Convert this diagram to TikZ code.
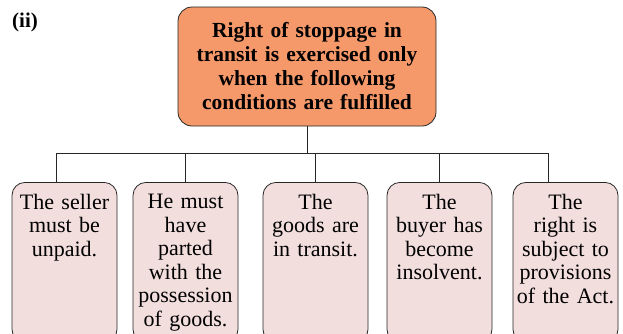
\documentclass[tikz,border=0pt]{standalone}
\usepackage{fontspec}
\setmainfont{Liberation Serif}
\usetikzlibrary{positioning}
\definecolor{headorange}{RGB}{245,152,106}
\definecolor{condpink}{RGB}{242,222,221}
\tikzset{
  headbox/.style={draw=black!85, line width=0.8pt, fill=headorange, rounded corners=14pt,
    minimum width=258pt, minimum height=119pt, text width=248pt, align=center,
    font=\bfseries\fontsize{21.5}{24}\selectfont},
  condbox/.style={draw=black!85, line width=0.8pt, fill=condpink, rounded corners=13pt,
    minimum width=105pt, minimum height=160pt, anchor=north},
  condtext/.style={text width=104pt, align=center, inner sep=0pt,
    font=\fontsize{22}{23.5}\selectfont},
  link/.style={draw=black!85, line width=0.8pt}
}
\begin{document}
\begin{tikzpicture}[x=1pt,y=-1pt]
\useasboundingbox (0,0) rectangle (623,333);
\clip (0,0) rectangle (623,333);

% Label
\node[font=\bfseries\fontsize{21}{22}\selectfont] (lbl) at (25,22) {(ii)};

% Head box
\node[headbox] (head) at (307,66.5) {Right of stoppage in\\transit is exercised only\\when the following\\conditions are fulfilled};

% Condition boxes
\node[condbox] (c1) at (64.5,182) {};
\node[condbox] (c2) at (185.5,182) {};
\node[condbox] (c3) at (315.5,182) {};
\node[condbox] (c4) at (439.5,182) {};
\node[condbox] (c5) at (565.5,182) {};

\node[condtext, anchor=north, below=12pt of c1.north] (t1) {The seller\\must be\\unpaid.};
\node[condtext, anchor=north, below=12pt of c2.north] (t2) {He must\\have\\parted\\with the\\possession\\of goods.};
\node[condtext, anchor=north, below=12pt of c3.north] (t3) {The\\goods are\\in transit.};
\node[condtext, anchor=north, below=12pt of c4.north] (t4) {The\\buyer has\\become\\insolvent.};
\node[condtext, anchor=north, below=12pt of c5.north] (t5) {The\\right is\\subject to\\provisions\\of the Act.};

% Connectors
\draw[link] (head.south) -- ++(0,27) coordinate (bus);
\draw[link] ([xshift=-8.5pt]c1.north) |- (bus) -| ([xshift=-17.5pt]c5.north);
\foreach \n in {2,3,4}
  \draw[link] (c\n.north) -- (c\n.north |- bus);
\end{tikzpicture}
\end{document}
